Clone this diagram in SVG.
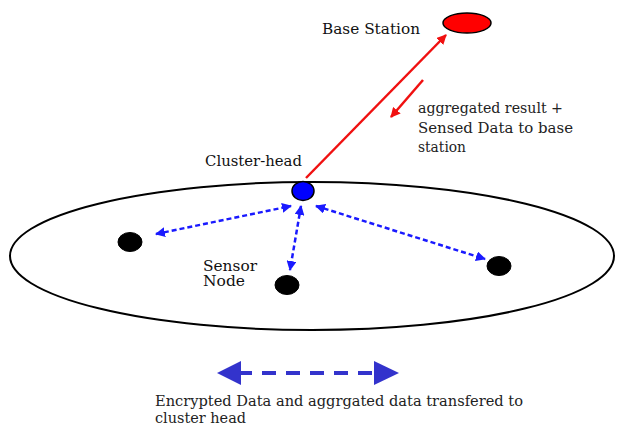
<svg xmlns="http://www.w3.org/2000/svg" width="627" height="427" viewBox="0 0 627 427">
<defs>
<style>
text{font-family:"DejaVu Serif","Liberation Serif","Times New Roman",serif;font-size:14px;fill:#111}
.big{font-size:15px;fill:#222}
.node{fill:#000;stroke:#000;stroke-width:1}
.blue{stroke:#1a1aff;stroke-width:2.5;stroke-dasharray:5,3;fill:none}
.red{stroke:#f01010;stroke-width:2.5;fill:none}
</style>
<marker id="bh" viewBox="0 0 10 10" refX="9" refY="5" markerWidth="4" markerHeight="4" orient="auto-start-reverse" markerUnits="strokeWidth">
<path d="M0,0 L10,5 L0,10 z" fill="#1a1aff"/>
</marker>
<marker id="rh" viewBox="0 0 10 10" refX="9" refY="5" markerWidth="4" markerHeight="4" orient="auto" markerUnits="strokeWidth">
<path d="M0,0 L10,5 L0,10 z" fill="#f01010"/>
</marker>
</defs>
<rect width="627" height="427" fill="#fff"/>
<g id="cluster-area"><ellipse cx="312" cy="256" rx="302" ry="74" fill="none" stroke="#000" stroke-width="2"/></g>
<g id="connectors">
<line class="red" x1="306" y1="178" x2="446" y2="35" marker-end="url(#rh)"/>
<line class="red" x1="423" y1="80" x2="391" y2="117" marker-end="url(#rh)"/>
<line class="blue" x1="156" y1="234" x2="291" y2="206" marker-start="url(#bh)" marker-end="url(#bh)"/>
<line class="blue" x1="301" y1="206" x2="290" y2="270" marker-start="url(#bh)" marker-end="url(#bh)"/>
<line class="blue" x1="316" y1="206" x2="485" y2="259" marker-start="url(#bh)" marker-end="url(#bh)"/>
</g>
<g id="base-station"><ellipse cx="467" cy="23" rx="24" ry="10" fill="#f00" stroke="#000" stroke-width="1.5"/><text x="322" y="34" textLength="98" lengthAdjust="spacingAndGlyphs">Base Station</text></g>
<g id="cluster-head"><ellipse cx="303" cy="191" rx="11" ry="9.5" fill="#0000ff" stroke="#000" stroke-width="1.5"/><text x="205" y="166" textLength="97" lengthAdjust="spacingAndGlyphs">Cluster-head</text></g>
<g id="node-left"><ellipse class="node" cx="130" cy="242" rx="12" ry="9.5"/></g>
<g id="node-mid"><ellipse class="node" cx="287" cy="285" rx="12" ry="9.5"/><text x="203" y="271" textLength="54" lengthAdjust="spacingAndGlyphs">Sensor</text><text x="203" y="286" textLength="42" lengthAdjust="spacingAndGlyphs">Node</text></g>
<g id="node-right"><ellipse class="node" cx="499" cy="266" rx="12" ry="9.5"/></g>
<g id="label-aggregated"><text class="big" x="418" y="113" textLength="145" lengthAdjust="spacingAndGlyphs">aggregated result +</text><text class="big" x="418" y="133" textLength="155" lengthAdjust="spacingAndGlyphs">Sensed Data to base</text><text class="big" x="418" y="152" textLength="48" lengthAdjust="spacingAndGlyphs">station</text></g>
<g id="legend">
<line x1="238" y1="373" x2="376" y2="373" stroke="#3333cc" stroke-width="4" stroke-dasharray="14,10"/>
<path d="M217,373 L241,361 L241,385 z" fill="#3333cc"/>
<path d="M399,373 L374,361 L374,385 z" fill="#3333cc"/>
<text class="big" x="155" y="406" textLength="368" lengthAdjust="spacingAndGlyphs">Encrypted Data and aggrgated data transfered to</text>
<text class="big" x="155" y="423" textLength="91" lengthAdjust="spacingAndGlyphs">cluster head</text>
</g>
</svg>
